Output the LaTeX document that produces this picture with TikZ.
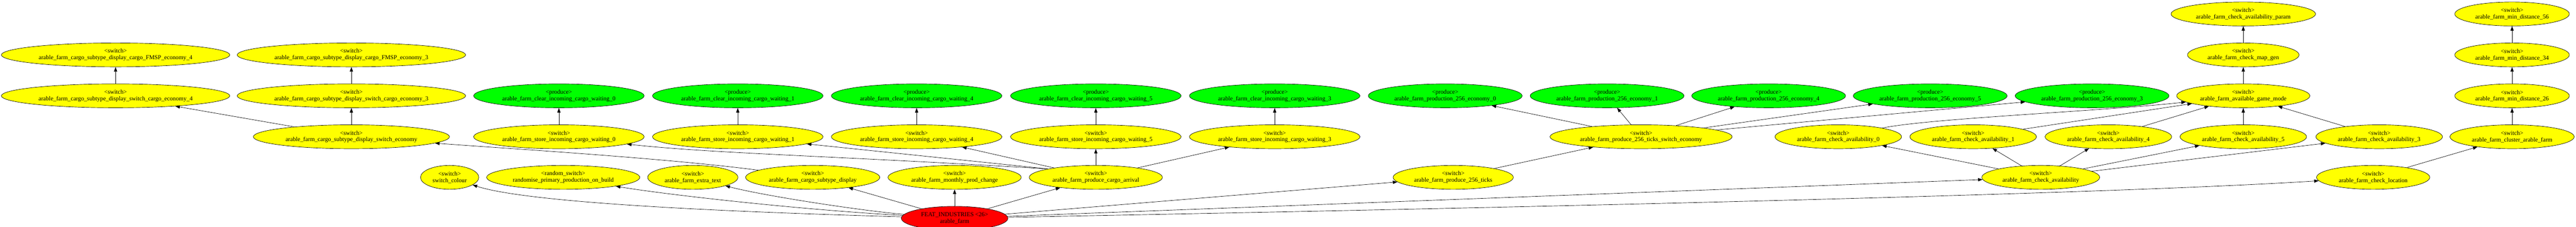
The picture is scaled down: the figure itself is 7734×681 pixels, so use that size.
\documentclass[tikz,border=0pt]{standalone}
\usepackage{fontspec}
\setmainfont{Liberation Serif}
\usetikzlibrary{shapes.geometric,arrows.meta}
\definecolor{gvyellow}{RGB}{255,255,0}
\definecolor{gvgreen}{RGB}{0,255,0}
\definecolor{gvred}{RGB}{255,0,0}
\newcommand{\swl}[1]{\textless switch\textgreater\\#1}
\newcommand{\prl}[1]{\textless produce\textgreater\\#1}
\begin{document}
\begin{tikzpicture}[x=0.7722pt,y=-0.7722pt,
  gvnode/.style={ellipse, draw=black, line width=0.8pt, inner sep=0pt, minimum height=55.6pt, minimum width={#1*0.7722pt}, align=center, font=\fontsize{14}{15.5}\selectfont},
  sw/.style={gvnode=#1, fill=gvyellow},
  pr/.style={gvnode=#1, fill=gvgreen},
  rt/.style={gvnode=#1, fill=gvred},
  edge/.style={-{Triangle[length=10.5pt,width=7.5pt]}, line width=0.8pt}]
\fill[white] (0,0) rectangle (7734,681);
\useasboundingbox (0,0) rectangle (7734,681);

% row 42
\node[sw=434] (param) at (6735,42) {\swl{arable\_farm\_check\_availability\_param}};
\node[sw=344] (md56) at (7542,42) {\swl{arable\_farm\_min\_distance\_56}};
% row 165
\node[sw=686] (fmsp4) at (347,165) {\swl{arable\_farm\_cargo\_subtype\_display\_cargo\_FMSP\_economy\_4}};
\node[sw=686] (fmsp3) at (1055,165) {\swl{arable\_farm\_cargo\_subtype\_display\_cargo\_FMSP\_economy\_3}};
\node[sw=335] (mapgen) at (6735,165) {\swl{arable\_farm\_check\_map\_gen}};
\node[sw=344] (md34) at (7542,165) {\swl{arable\_farm\_min\_distance\_34}};
% row 288
\node[sw=686] (sc4) at (347,288) {\swl{arable\_farm\_cargo\_subtype\_display\_switch\_cargo\_economy\_4}};
\node[sw=686] (sc3) at (1055,288) {\swl{arable\_farm\_cargo\_subtype\_display\_switch\_cargo\_economy\_3}};
\node[pr=512] (clear0) at (1678,288) {\prl{arable\_farm\_clear\_incoming\_cargo\_waiting\_0}};
\node[pr=512] (clear1) at (2215,288) {\prl{arable\_farm\_clear\_incoming\_cargo\_waiting\_1}};
\node[pr=512] (clear4) at (2752,288) {\prl{arable\_farm\_clear\_incoming\_cargo\_waiting\_4}};
\node[pr=512] (clear5) at (3290,288) {\prl{arable\_farm\_clear\_incoming\_cargo\_waiting\_5}};
\node[pr=512] (clear3) at (3827,288) {\prl{arable\_farm\_clear\_incoming\_cargo\_waiting\_3}};
\node[pr=462] (prod0) at (4339,288) {\prl{arable\_farm\_production\_256\_economy\_0}};
\node[pr=462] (prod1) at (4825,288) {\prl{arable\_farm\_production\_256\_economy\_1}};
\node[pr=462] (prod4) at (5310,288) {\prl{arable\_farm\_production\_256\_economy\_4}};
\node[pr=462] (prod5) at (5795,288) {\prl{arable\_farm\_production\_256\_economy\_5}};
\node[pr=462] (prod3) at (6281,288) {\prl{arable\_farm\_production\_256\_economy\_3}};
\node[sw=400] (gamemode) at (6735,288) {\swl{arable\_farm\_available\_game\_mode}};
\node[sw=344] (md26) at (7542,288) {\swl{arable\_farm\_min\_distance\_26}};
% row 411
\node[sw=589] (swecon) at (1055,411) {\swl{arable\_farm\_cargo\_subtype\_display\_switch\_economy}};
\node[sw=512] (store0) at (1678,411) {\swl{arable\_farm\_store\_incoming\_cargo\_waiting\_0}};
\node[sw=512] (store1) at (2215,411) {\swl{arable\_farm\_store\_incoming\_cargo\_waiting\_1}};
\node[sw=512] (store4) at (2752,411) {\swl{arable\_farm\_store\_incoming\_cargo\_waiting\_4}};
\node[sw=512] (store5) at (3290,411) {\swl{arable\_farm\_store\_incoming\_cargo\_waiting\_5}};
\node[sw=512] (store3) at (3827,411) {\swl{arable\_farm\_store\_incoming\_cargo\_waiting\_3}};
\node[sw=547] (p256sw) at (4927,411) {\swl{arable\_farm\_produce\_256\_ticks\_switch\_economy}};
\node[sw=380] (ca0) at (5519,411) {\swl{arable\_farm\_check\_availability\_0}};
\node[sw=380] (ca1) at (5924,411) {\swl{arable\_farm\_check\_availability\_1}};
\node[sw=380] (ca4) at (6330,411) {\swl{arable\_farm\_check\_availability\_4}};
\node[sw=380] (ca5) at (6735,411) {\swl{arable\_farm\_check\_availability\_5}};
\node[sw=380] (ca3) at (7143,411) {\swl{arable\_farm\_check\_availability\_3}};
\node[sw=373] (cluster) at (7542,411) {\swl{arable\_farm\_cluster\_arable\_farm}};
% row 533
\node[sw=175] (colour) at (1350,533) {\swl{switch\_colour}};
\node[sw=460] (random) at (1691,533) {\textless random\_switch\textgreater\\randomise\_primary\_production\_on\_build};
\node[sw=271] (extratext) at (2080,533) {\swl{arable\_farm\_extra\_text}};
\node[sw=403] (csd) at (2440,533) {\swl{arable\_farm\_cargo\_subtype\_display}};
\node[sw=400] (monthly) at (2866,533) {\swl{arable\_farm\_monthly\_prod\_change}};
\node[sw=400] (arrival) at (3290,533) {\swl{arable\_farm\_produce\_cargo\_arrival}};
\node[sw=361] (p256) at (4363,533) {\swl{arable\_farm\_produce\_256\_ticks}};
\node[sw=354] (checkavail) at (6127,533) {\swl{arable\_farm\_check\_availability}};
\node[sw=340] (location) at (7125,533) {\swl{arable\_farm\_check\_location}};
% row 656
\node[rt=320] (red) at (2866,656) {FEAT\_INDUSTRIES \textless 26\textgreater\\arable\_farm};

% edges from the root
\draw[edge] (red) .. controls (2300,640) and (1600,615) .. (colour);
\draw[edge] (red) .. controls (2400,630) and (2000,585) .. (random);
\draw[edge] (red) .. controls (2600,635) and (2300,590) .. (extratext);
\draw[edge] (red) -- (csd);
\draw[edge] (red) -- (monthly);
\draw[edge] (red) -- (arrival);
\draw[edge] (red) -- (p256);
\draw[edge] (red) -- (checkavail);
\draw[edge] (red) .. controls (4500,625) and (6300,585) .. (location);

% cargo subtype display chain
\draw[edge] (csd) .. controls (2000,475) and (1500,445) .. (swecon);
\draw[edge] (swecon) -- (sc4);
\draw[edge] (swecon) -- (sc3);
\draw[edge] (sc4) -- (fmsp4);
\draw[edge] (sc3) -- (fmsp3);

% cargo arrival
\draw[edge] (arrival.170) .. controls (2500,468) and (2150,462) .. (store0);
\draw[edge] (arrival.170) -- (store1);
\draw[edge] (arrival) -- (store4);
\draw[edge] (arrival) -- (store5);
\draw[edge] (arrival) -- (store3);
\draw[edge] (store0) -- (clear0);
\draw[edge] (store1) -- (clear1);
\draw[edge] (store4) -- (clear4);
\draw[edge] (store5) -- (clear5);
\draw[edge] (store3) -- (clear3);

% 256 ticks
\draw[edge] (p256) -- (p256sw);
\draw[edge] (p256sw) -- (prod0);
\draw[edge] (p256sw) -- (prod1);
\draw[edge] (p256sw) -- (prod4);
\draw[edge] (p256sw) -- (prod5);
\draw[edge] (p256sw) -- (prod3);

% availability
\draw[edge] (checkavail) -- (ca0);
\draw[edge] (checkavail) -- (ca1);
\draw[edge] (checkavail) -- (ca4);
\draw[edge] (checkavail) -- (ca5);
\draw[edge] (checkavail) -- (ca3);
\draw[edge] (ca0) .. controls (5800,355) and (6300,335) .. (gamemode);
\draw[edge] (ca1) -- (gamemode);
\draw[edge] (ca4) -- (gamemode);
\draw[edge] (ca5) -- (gamemode);
\draw[edge] (ca3) -- (gamemode);
\draw[edge] (gamemode) -- (mapgen);
\draw[edge] (mapgen) -- (param);

% location
\draw[edge] (location) -- (cluster);
\draw[edge] (cluster) -- (md26);
\draw[edge] (md26) -- (md34);
\draw[edge] (md34) -- (md56);
\end{tikzpicture}
\end{document}
